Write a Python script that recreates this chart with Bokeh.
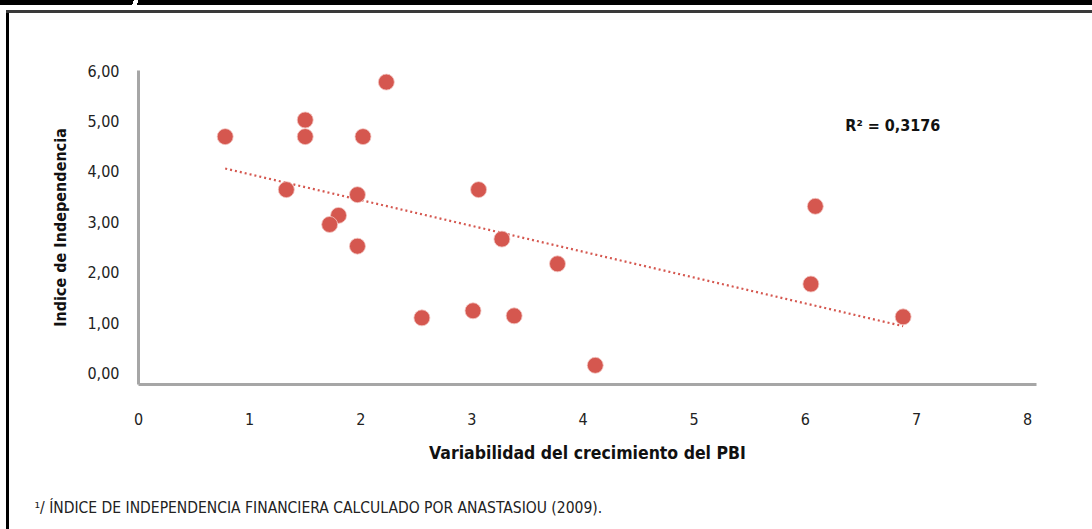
import numpy as np
from bokeh.plotting import figure
from bokeh.models import Label, Title, FixedTicker, CustomJSTickFormatter, ColumnDataSource
from bokeh.embed import file_html
from bokeh.resources import INLINE

x_vals = [0.78, 1.50, 1.50, 1.33, 2.02, 2.23, 1.97, 1.80, 1.72, 1.97, 3.06, 3.27, 3.77, 2.55, 3.01, 3.38, 4.11, 6.09, 6.05, 6.88]
y_vals = [4.69, 5.02, 4.69, 3.64, 4.69, 5.77, 3.54, 3.13, 2.95, 2.52, 3.64, 2.66, 2.17, 1.10, 1.24, 1.14, 0.16, 3.31, 1.77, 1.12]
x_ticks = [0, 1, 2, 3, 4, 5, 6, 7, 8]
y_ticks = [0, 1, 2, 3, 4, 5, 6]
x_title = "Variabilidad del crecimiento del PBI"
y_title = "Indice de Independencia"
r2_text = "R\u00b2 = 0,3176"
footnote = "\u00b9/ \u00cdNDICE DE INDEPENDENCIA FINANCIERA CALCULADO POR ANASTASIOU (2009)."

FONT = "'DejaVu Sans Condensed', 'DejaVu Sans'"
RED = "#D5574F"

W, H = 1092, 529
ML, MR, MT, MB = 138, 56, 70, 143

p = figure(width=W, height=H, x_range=(0, 8.08), y_range=(-0.22, 6.0),
           output_backend="svg", toolbar_location=None,
           min_border_left=ML, min_border_right=MR, min_border_top=MT, min_border_bottom=MB)
p.outline_line_color = None
p.border_fill_color = None
p.background_fill_color = None
p.xgrid.visible = False
p.ygrid.visible = False

# decorative page frame (black top strip with slash, top and left borders)
p.styles = {
    "background-color": "white",
    "background-image": ", ".join([
        "linear-gradient(110deg, rgba(0,0,0,0) 38%, white 38%, white 66%, rgba(0,0,0,0) 66%)",
        "linear-gradient(black, black)",
        "linear-gradient(#3a3a3a, #3a3a3a)",
        "linear-gradient(black, black)",
    ]),
    "background-size": "14px 5px, 1092px 5px, 1086px 3px, 3px 519px",
    "background-position": "128px 0px, 0px 0px, 6px 10px, 6px 10px",
    "background-repeat": "no-repeat",
}

for ax in (p.xaxis[0], p.yaxis[0]):
    ax.axis_line_color = "#A6A6A6"
    ax.axis_line_width = 3
    ax.major_tick_line_color = None
    ax.minor_tick_line_color = None
    ax.major_label_text_font = FONT
    ax.major_label_text_font_size = "16px"
    ax.major_label_text_color = "#222222"
    ax.axis_label_text_font = FONT
    ax.axis_label_text_font_style = "bold"
    ax.axis_label_text_color = "#111111"

p.xaxis.axis_label_text_font_size = "17.5px"
p.yaxis.axis_label_text_font_size = "16px"
p.xaxis.ticker = FixedTicker(ticks=x_ticks)
p.yaxis.ticker = FixedTicker(ticks=y_ticks)
p.yaxis.formatter = CustomJSTickFormatter(code="return tick.toFixed(2).replace('.', ',');")
p.xaxis.axis_label = x_title
p.yaxis.axis_label = y_title
p.xaxis.major_label_standoff = 22
p.yaxis.major_label_standoff = 13
p.xaxis.axis_label_standoff = 15
p.yaxis.axis_label_standoff = 14

# trend line (least squares)
xs = np.array(x_vals); ys = np.array(y_vals)
m, b = np.polyfit(xs, ys, 1)
tx = [xs.min(), xs.max()]
p.line(tx, [m * t + b for t in tx], line_color=RED, line_width=2.2, line_dash="2 3")

src = ColumnDataSource(dict(x=x_vals, y=y_vals))
p.scatter("x", "y", source=src, size=16, fill_color=RED, line_color="#F2C7C3", line_width=0.8)

p.add_layout(Label(x=6.36, y=4.92, text=r2_text, text_font=FONT, text_font_style="bold",
                   text_font_size="16px", text_baseline="middle", text_color="#111111"))

# footnote: leading blank line pushes it to the bottom of the panel
p.add_layout(Title(text="\n" + footnote, align="left", offset=-104, standoff=26, text_font=FONT,
                   text_font_size="15.5px", text_font_style="normal", text_color="#222222"), "below")

open("out.html", "w").write(file_html(p, INLINE))
